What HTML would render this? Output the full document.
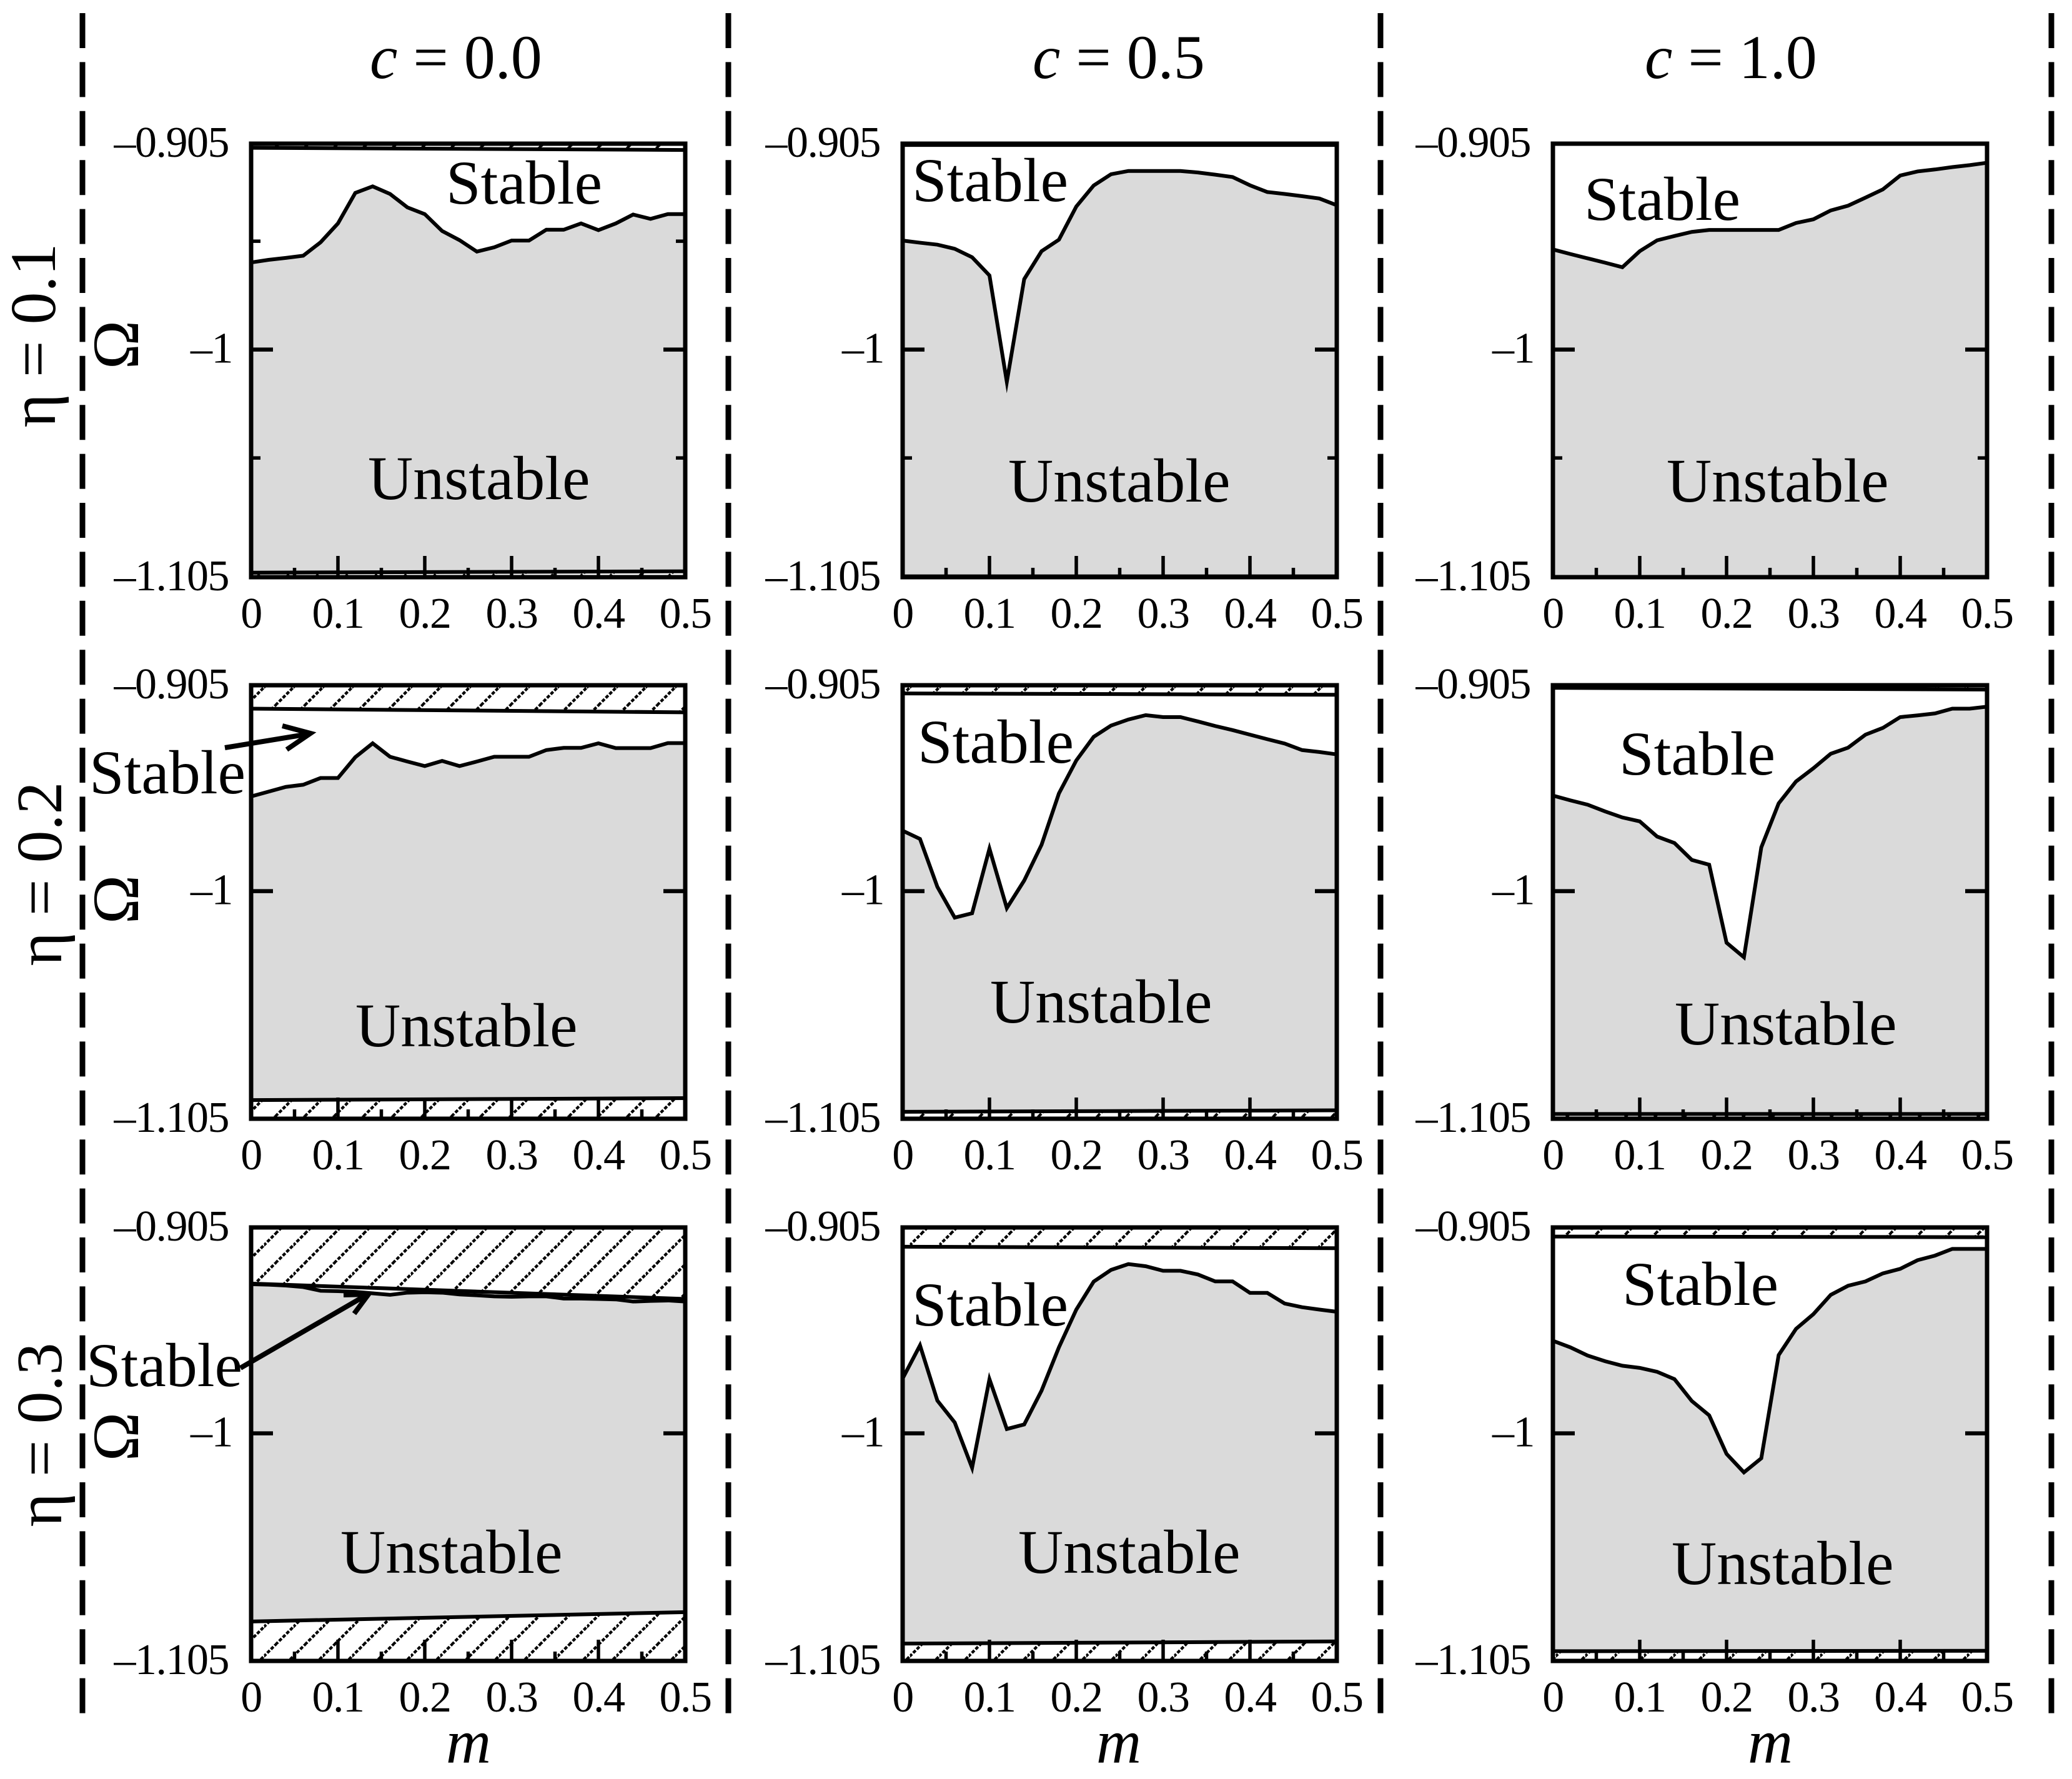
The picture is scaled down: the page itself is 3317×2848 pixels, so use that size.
<!DOCTYPE html>
<html lang="en">
<head>
<meta charset="utf-8">
<title>Stability diagram</title>
<style>
html,body{margin:0;padding:0;background:#fff;}
svg{display:block;}
text{font-family:"Liberation Serif","DejaVu Serif",serif;fill:#000;}
</style>
</head>
<body>
<svg id="fig" xmlns="http://www.w3.org/2000/svg" width="3317" height="2848" viewBox="0 0 3317 2848">
<defs>
<pattern id="hatch" patternUnits="userSpaceOnUse" width="47" height="47">
<path d="M-1 20L20 -1M18 48L48 18" stroke="#000" stroke-width="4.4" stroke-dasharray="5.6 2.7" fill="none"/>
</pattern>
</defs>
<rect x="0" y="0" width="3317" height="2848" fill="#fff"/>
<g stroke="#000" stroke-width="9" stroke-dasharray="56 22.4" fill="none">
<line x1="132" y1="21" x2="132" y2="2743"/>
<line x1="1166" y1="21" x2="1166" y2="2743"/>
<line x1="2210" y1="21" x2="2210" y2="2743"/>
<line x1="3284" y1="21" x2="3284" y2="2743"/>
</g>
<text x="592" y="125" font-size="100"><tspan font-style="italic">c</tspan> = 0.0</text>
<text x="1653" y="125" font-size="100"><tspan font-style="italic">c</tspan> = 0.5</text>
<text x="2633" y="125" font-size="100"><tspan font-style="italic">c</tspan> = 1.0</text>
<text transform="translate(88,537) rotate(-90)" text-anchor="middle" font-size="104">η = 0.1</text>
<text transform="translate(98,1399) rotate(-90)" text-anchor="middle" font-size="104">η = 0.2</text>
<text transform="translate(98,2297) rotate(-90)" text-anchor="middle" font-size="104">η = 0.3</text>
<text transform="translate(221,552) rotate(-90)" text-anchor="middle" font-size="106">Ω</text>
<text transform="translate(221,1440) rotate(-90)" text-anchor="middle" font-size="106">Ω</text>
<text transform="translate(221,2300) rotate(-90)" text-anchor="middle" font-size="106">Ω</text>
<text x="750" y="2822" text-anchor="middle" font-size="100" font-style="italic">m</text>
<text x="1791" y="2822" text-anchor="middle" font-size="100" font-style="italic">m</text>
<text x="2834" y="2822" text-anchor="middle" font-size="100" font-style="italic">m</text>
<g id="panels"></g>
</svg>
<script>
const mGrid = [0,0.02,0.04,0.06,0.08,0.1,0.12,0.14,0.16,0.18,0.2,0.22,0.24,0.26,0.28,0.3,0.32,0.34,0.36,0.38,0.4,0.42,0.44,0.46,0.48,0.5];
const mEnds = [0,0.5];
const xTickMajor = [0,0.1,0.2,0.3,0.4,0.5];
const xTickLabels = ["0","0.1","0.2","0.3","0.4","0.5"];
const xTickMinor = [0.05,0.15,0.25,0.35,0.45];
const yTickMajor = [-0.905,-1,-1.105];
const yTickLabels = ["\u20130.905","\u20131","\u20131.105"];

const omegaR1C1 = [-0.9598,-0.9586,-0.9577,-0.9567,-0.9505,-0.9418,-0.9277,-0.9247,-0.9282,-0.9344,-0.9375,-0.9453,-0.9495,-0.9548,-0.9528,-0.9497,-0.9497,-0.9447,-0.9447,-0.9418,-0.9449,-0.9418,-0.9377,-0.9397,-0.9375,-0.9375];
const upperR1C1 = [-0.9069,-0.9079];
const lowerR1C1 = [-1.1029,-1.1023];
const omegaR1C2 = [-0.9497,-0.9507,-0.9516,-0.9535,-0.9574,-0.9658,-1.0149,-0.9675,-0.9546,-0.9493,-0.9340,-0.9243,-0.9191,-0.9176,-0.9176,-0.9176,-0.9176,-0.9183,-0.9193,-0.9204,-0.9242,-0.9273,-0.9282,-0.9292,-0.9303,-0.9334];
const upperR1C2 = [-0.9056,-0.9056];
const lowerR1C2 = [-1.1046,-1.1046];
const omegaR1C3 = [-0.9538,-0.9559,-0.9579,-0.9599,-0.9620,-0.9546,-0.9496,-0.9476,-0.9457,-0.9448,-0.9448,-0.9448,-0.9448,-0.9448,-0.9416,-0.9399,-0.9358,-0.9336,-0.9299,-0.9261,-0.9197,-0.9178,-0.9169,-0.9158,-0.9149,-0.9138];
const omegaR2C1 = [-0.9563,-0.9541,-0.9519,-0.9509,-0.9478,-0.9478,-0.9382,-0.9318,-0.9380,-0.9402,-0.9423,-0.9399,-0.9423,-0.9402,-0.9380,-0.9380,-0.9380,-0.9349,-0.9339,-0.9339,-0.9318,-0.9340,-0.9340,-0.9340,-0.9317,-0.9317];
const upperR2C1 = [-0.9158,-0.9175];
const lowerR2C1 = [-1.0964,-1.0955];
const omegaR2C2 = [-0.9721,-0.9759,-0.9980,-1.0122,-1.0102,-0.9804,-1.0078,-0.9951,-0.9786,-0.9549,-0.9397,-0.9288,-0.9236,-0.9208,-0.9188,-0.9197,-0.9197,-0.9217,-0.9238,-0.9257,-0.9278,-0.9299,-0.9319,-0.9349,-0.9358,-0.9369];
const upperR2C2 = [-0.9088,-0.9094];
const lowerR2C2 = [-1.1018,-1.1011];
const omegaR2C3 = [-0.9559,-0.9581,-0.9601,-0.9632,-0.9660,-0.9678,-0.9748,-0.9778,-0.9856,-0.9878,-1.0238,-1.0305,-0.9798,-0.9595,-0.9494,-0.9433,-0.9366,-0.9338,-0.9278,-0.9247,-0.9197,-0.9189,-0.9180,-0.9158,-0.9158,-0.9149];
const upperR2C3 = [-0.9062,-0.9070];
const lowerR2C3 = [-1.1028,-1.1028];
const omegaR3C1 = [-0.9312,-0.9314,-0.9318,-0.9325,-0.9342,-0.9344,-0.9347,-0.9354,-0.9361,-0.9351,-0.9349,-0.9351,-0.9359,-0.9363,-0.9368,-0.9370,-0.9368,-0.9368,-0.9378,-0.9378,-0.9380,-0.9382,-0.9392,-0.9389,-0.9387,-0.9392];
const upperR3C1 = [-0.9309,-0.9380];
const lowerR3C1 = [-1.0868,-1.0825];
const omegaR3C2 = [-0.9747,-0.9594,-0.9849,-0.9950,-1.0159,-0.9750,-0.9980,-0.9959,-0.9803,-0.9603,-0.9429,-0.9300,-0.9246,-0.9219,-0.9229,-0.9250,-0.9250,-0.9267,-0.9299,-0.9299,-0.9352,-0.9352,-0.9401,-0.9418,-0.9429,-0.9439];
const upperR3C2 = [-0.9139,-0.9146];
const lowerR3C2 = [-1.0970,-1.0960];
const omegaR3C3 = [-0.9573,-0.9603,-0.9641,-0.9667,-0.9688,-0.9698,-0.9716,-0.9750,-0.9851,-0.9917,-1.0095,-1.0180,-1.0115,-0.9639,-0.9518,-0.9450,-0.9361,-0.9319,-0.9299,-0.9262,-0.9241,-0.9201,-0.9180,-0.9149,-0.9149,-0.9149];
const upperR3C3 = [-0.9092,-0.9095];
const lowerR3C3 = [-1.1005,-1.1003];

const NS = "http://www.w3.org/2000/svg";
const root = document.getElementById("panels");
const colLeft = [402,1445,2486];
const rowTop = [230,1097,1965];
const frameW = 695;
const frameH = 694;

function mk(parent, tag, attrs, txt){
  const el = document.createElementNS(NS, tag);
  for (const k in attrs) el.setAttribute(k, attrs[k]);
  if (txt !== undefined) el.textContent = txt;
  parent.appendChild(el);
  return el;
}

function drawPanel(r, c, omega, upper, lower, minorY, stable, unstable){
  const L = colLeft[c], T = rowTop[r];
  const xS = m => L + (m / 0.5) * frameW;
  const yS = w => T + ((-0.905 - w) / 0.2) * frameH;
  const g = mk(root, "g", {});
  
  

  const hatch = mk(g, "rect", {x:L, y:T, width:frameW, height:frameH, fill:"url(#hatch)"});
  
  

  const up = upper || [-0.905,-0.905];
  const lo = lower || [-1.105,-1.105];
  const uPts = mEnds.map((m,i) => xS(m) + "," + yS(up[i]));
  const lPts = mEnds.map((m,i) => xS(m) + "," + yS(lo[i])).reverse();
  const curvePts = mGrid.map((m,i) => xS(m) + "," + yS(omega[i]));

  const white = mk(g, "polygon", {points: uPts.concat(lPts).join(" "), fill:"#fff"});
  
  

  const gray = mk(g, "polygon", {points: curvePts.concat(lPts).join(" "), fill:"#dadada"});
  
  

  if (upper){
    const uLine = mk(g, "polyline", {points: uPts.join(" "), fill:"none", stroke:"#000", "stroke-width":6});
    
    
  }
  if (lower){
    const lLine = mk(g, "polyline", {points: lPts.join(" "), fill:"none", stroke:"#000", "stroke-width":6});
    
    
  }
  const curve = mk(g, "polyline", {points: curvePts.join(" "), fill:"none", stroke:"#000", "stroke-width":6, "stroke-linejoin":"miter", "stroke-miterlimit":12});
  
  

  const B = T + frameH, R = L + frameW;
  xTickMajor.forEach((m,i) => {
    const t = mk(g, "line", {x1:xS(m), x2:xS(m), y1:B, y2:B-34, stroke:"#000", "stroke-width":5.5});
    
    
    const lab = mk(g, "text", {x:xS(m), y:B+81, "text-anchor":"middle", "font-size":70, "letter-spacing":"-1.5"}, xTickLabels[i]);
    
    
  });
  xTickMinor.forEach(m => {
    const t = mk(g, "line", {x1:xS(m), x2:xS(m), y1:B, y2:B-15, stroke:"#000", "stroke-width":5.5});
    
    
  });
  yTickMajor.forEach((w,i) => {
    if (w === -1){
      const a = mk(g, "line", {x1:L, x2:L+35, y1:yS(w), y2:yS(w), stroke:"#000", "stroke-width":6.5});
      
      
      const b = mk(g, "line", {x1:R, x2:R-35, y1:yS(w), y2:yS(w), stroke:"#000", "stroke-width":6.5});
      
      
    }
    const endX = (w === -1) ? L-30 : L-36;
    const lab = mk(g, "text", {x:endX, y:yS(w)+21, "text-anchor":"end", "font-size":70, "letter-spacing":"-1.5"}, yTickLabels[i]);
    
    
  });
  minorY.forEach(w => {
    const a = mk(g, "line", {x1:L, x2:L+15, y1:yS(w), y2:yS(w), stroke:"#000", "stroke-width":5.5});
    
    
    const b = mk(g, "line", {x1:R, x2:R-15, y1:yS(w), y2:yS(w), stroke:"#000", "stroke-width":5.5});
    
    
  });

  const frame = mk(g, "rect", {x:L, y:T, width:frameW, height:frameH, fill:"none", stroke:"#000", "stroke-width":7});
  
  

  const st = mk(g, "text", {x:stable[0], y:stable[1], "font-size":100}, "Stable");
  
  
  const un = mk(g, "text", {x:unstable[0], y:unstable[1], "font-size":100}, "Unstable");
  
  
}

drawPanel(0,0,omegaR1C1,upperR1C1,lowerR1C1,[-0.95,-1.05],[714,326],[589,799]);
drawPanel(0,1,omegaR1C2,upperR1C2,lowerR1C2,[-1.05],[1460,322],[1614,803]);
drawPanel(0,2,omegaR1C3,null,null,[-1.05],[2536,352],[2668,803]);
drawPanel(1,0,omegaR2C1,upperR2C1,lowerR2C1,[],[143,1270],[569,1675]);
drawPanel(1,1,omegaR2C2,upperR2C2,lowerR2C2,[],[1469,1221],[1585,1637]);
drawPanel(1,2,omegaR2C3,upperR2C3,lowerR2C3,[],[2592,1240],[2681,1672]);
drawPanel(2,0,omegaR3C1,upperR3C1,lowerR3C1,[],[138,2219],[545,2518]);
drawPanel(2,1,omegaR3C2,upperR3C2,lowerR3C2,[],[1460,2122],[1630,2518]);
drawPanel(2,2,omegaR3C3,upperR3C3,lowerR3C3,[],[2597,2089],[2676,2536]);
</script>
<svg xmlns="http://www.w3.org/2000/svg" width="3317" height="2848" viewBox="0 0 3317 2848" style="position:absolute;left:0;top:0;pointer-events:none;">
<g fill="none" stroke="#000" stroke-width="8">
<line x1="360" y1="1197" x2="494" y2="1175"/>
<polyline points="452,1162 497,1174 459,1200"/>
</g>
<g fill="none" stroke="#000" stroke-width="8">
<line x1="385" y1="2190" x2="587" y2="2073"/>
<polyline points="550,2073 590,2072 567,2103"/>
</g>
</svg>
</body>
</html>
